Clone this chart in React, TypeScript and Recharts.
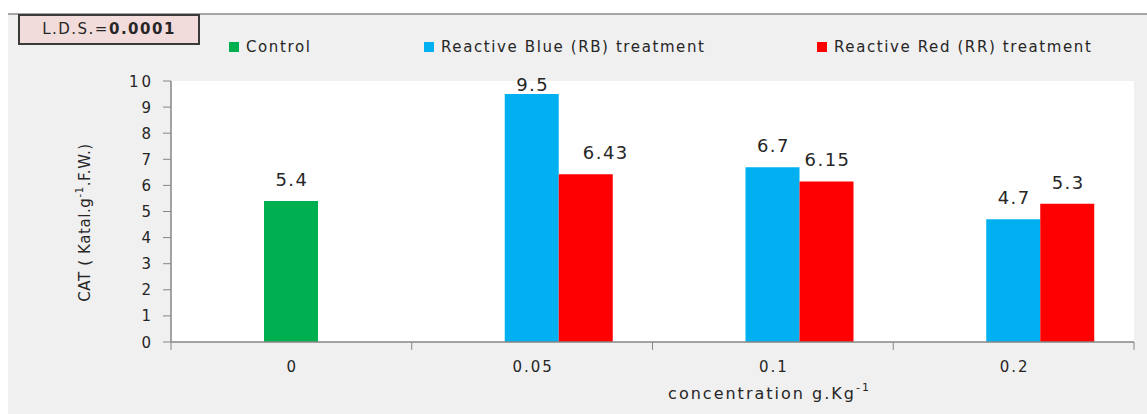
import React from 'react';
import { BarChart, Bar, XAxis, YAxis, CartesianGrid, LabelList, Label } from 'recharts';

// ---------- data ----------
const categories = ['0', '0.05', '0.1', '0.2'];
const controlValues: (number | null)[] = [5.4, null, null, null];
const rbValues: (number | null)[] = [null, 9.5, 6.7, 4.7];
const rrValues: (number | null)[] = [null, 6.43, 6.15, 5.3];
const yTicks = [0, 1, 2, 3, 4, 5, 6, 7, 8, 9, 10];
const seriesNames = ['Control', 'Reactive Blue (RB) treatment', 'Reactive Red (RR) treatment'];
const seriesColors = ['#00b050', '#00b0f0', '#ff0000'];
const ldsLabel = 'L.D.S.=';
const ldsValue = '0.0001';

// label nudges (Excel manual label placement)
const rrLabelDx = [0, 19, 0, 0];

const data = categories.map((c, i) => ({
  cat: c,
  spacer: null,
  control: controlValues[i],
  rb: rbValues[i],
  rr: rrValues[i],
}));

// ---------- layout ----------
const W = 1147;
const H = 414;
const MARGIN = { top: 81, right: 13, bottom: 42, left: 111 };
const FONT = '"DejaVu Sans", Verdana, sans-serif';
const TEXT = '#262626';
const AXIS = '#868686';

const makeLabel = (values: (number | null)[], dx?: number[]) => (props: any) => {
  const { x, y, width, value } = props;
  if (value === null || value === undefined || value === 0) return null;
  const idx = values.findIndex((v) => v !== null && Math.abs(v - Number(value)) < 1e-9);
  const cx = Number(x) + Number(width) / 2 + (dx && idx >= 0 ? dx[idx] || 0 : 0);
  const baseline = Math.max(Number(y) - 15, MARGIN.top + 10);
  return (
    <text
      x={cx + 1}
      y={baseline}
      textAnchor="middle"
      fontFamily={FONT}
      fontSize={18}
      letterSpacing={1.5}
      fill={TEXT}
    >
      {String(value)}
    </text>
  );
};

const XTick = (props: any) => {
  const { x, y, payload, index, visibleTicksCount } = props;
  const half = payload && typeof payload.offset === 'number' && payload.offset > 0 ? payload.offset : 120.4;
  const isLast = index === (visibleTicksCount ?? categories.length) - 1;
  return (
    <g>
      <line x1={x - half} x2={x - half} y1={y} y2={y + 8} stroke={AXIS} strokeWidth={1} />
      {isLast && <line x1={x + half} x2={x + half} y1={y} y2={y + 8} stroke={AXIS} strokeWidth={1} />}
      <text
        x={x + 1}
        y={y + 30}
        textAnchor="middle"
        fontFamily={FONT}
        fontSize={15}
        letterSpacing={2}
        fill={TEXT}
      >
        {payload.value}
      </text>
    </g>
  );
};

const YTick = (props: any) => {
  const { x, y, payload } = props;
  return (
    <text
      x={x + 3}
      y={y + 5.5}
      textAnchor="end"
      fontFamily={FONT}
      fontSize={15}
      letterSpacing={3}
      fill={TEXT}
    >
      {payload.value}
    </text>
  );
};

const YLabel = (props: any) => {
  const vb = props.viewBox || { x: MARGIN.left, y: MARGIN.top, width: 60, height: 261 };
  const cx = vb.x - 26;
  const cy = vb.y + vb.height / 2 + 11;
  return (
    <text
      transform={`translate(${cx}, ${cy}) rotate(-90)`}
      textAnchor="middle"
      dominantBaseline="central"
      fontFamily={FONT}
      fontSize={15}
      letterSpacing={0.6}
      fill={TEXT}
    >
      <tspan>CAT ( Katal.g</tspan>
      <tspan fontSize={10} dy={-6}>-1</tspan>
      <tspan dy={6}>.F.W.)</tspan>
    </text>
  );
};

const XLabel = (props: any) => {
  const vb = props.viewBox || { x: 171, y: 342, width: 963, height: 30 };
  const cx = vb.x + vb.width / 2 + 117;
  const by = vb.y + 57;
  return (
    <text
      x={cx}
      y={by}
      textAnchor="middle"
      fontFamily={FONT}
      fontSize={16}
      letterSpacing={2}
      fill={TEXT}
    >
      <tspan>concentration g.Kg</tspan>
      <tspan fontSize={11} dy={-8}>-1</tspan>
    </text>
  );
};

const legendLefts = [229, 424, 817];

export default function App() {
  return (
    <div
      style={{
        position: 'fixed',
        left: 0,
        top: 0,
        width: W,
        height: H,
        background: '#ffffff',
        fontFamily: FONT,
        overflow: 'hidden',
      }}
    >
      <div
        style={{
          position: 'absolute',
          left: 8,
          top: 13,
          right: 0,
          bottom: 0,
          background: '#f0f0f0',
          borderTop: '2px solid #a6a6a6',
        }}
      />
      <div
        style={{
          position: 'absolute',
          left: 18,
          top: 14,
          width: 178,
          height: 27,
          background: '#f2dcdb',
          border: '2px solid #3a3a3a',
          color: TEXT,
          fontSize: 15,
          letterSpacing: 1.5,
          lineHeight: '27px',
          textAlign: 'center',
        }}
      >
        {ldsLabel}
        <b>{ldsValue}</b>
      </div>
      {seriesNames.map((name, i) => (
        <div
          key={name}
          style={{
            position: 'absolute',
            left: legendLefts[i],
            top: 37,
            height: 20,
            display: 'flex',
            alignItems: 'center',
            whiteSpace: 'nowrap',
            color: TEXT,
            fontSize: 15,
            letterSpacing: 1.6,
          }}
        >
          <span
            style={{
              display: 'inline-block',
              width: 10,
              height: 10,
              background: seriesColors[i],
              marginRight: 7,
            }}
          />
          <span>{name}</span>
        </div>
      ))}
      <div style={{ position: 'absolute', left: 0, top: 0 }}>
        <BarChart width={W} height={H} data={data} margin={MARGIN} barGap={0} barSize={54}>
          <CartesianGrid horizontal={false} vertical={false} fill="#ffffff" stroke="none" />
          <XAxis
            dataKey="cat"
            type="category"
            height={30}
            interval={0}
            tickSize={0}
            tickMargin={0}
            tickLine={false}
            axisLine={{ stroke: AXIS, strokeWidth: 1.5 }}
            tick={<XTick />}
          >
            <Label content={<XLabel />} />
          </XAxis>
          <YAxis
            type="number"
            domain={[0, 10]}
            ticks={yTicks}
            interval={0}
            width={60}
            tickSize={8}
            tickMargin={12}
            tickLine={{ stroke: AXIS }}
            axisLine={{ stroke: AXIS, strokeWidth: 1.5 }}
            tick={<YTick />}
          >
            <Label content={<YLabel />} />
          </YAxis>
          <Bar dataKey="spacer" stackId="s1" fill="transparent" legendType="none" isAnimationActive={false} />
          <Bar dataKey="control" name={seriesNames[0]} stackId="s2" fill={seriesColors[0]} isAnimationActive={false}>
            <LabelList dataKey="control" content={makeLabel(controlValues)} />
          </Bar>
          <Bar dataKey="rb" name={seriesNames[1]} stackId="s2" fill={seriesColors[1]} isAnimationActive={false}>
            <LabelList dataKey="rb" content={makeLabel(rbValues)} />
          </Bar>
          <Bar dataKey="rr" name={seriesNames[2]} stackId="s3" fill={seriesColors[2]} isAnimationActive={false}>
            <LabelList dataKey="rr" content={makeLabel(rrValues, rrLabelDx)} />
          </Bar>
        </BarChart>
      </div>
    </div>
  );
}
